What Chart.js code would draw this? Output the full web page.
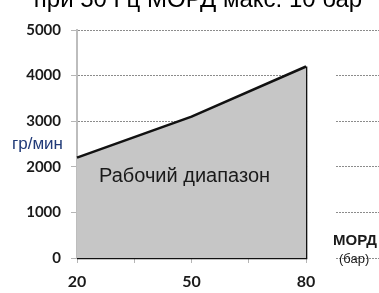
<!DOCTYPE html>
<html>
<head>
<meta charset="utf-8">
<script src="https://cdn.jsdelivr.net/npm/chart.js@4.4.1/dist/chart.umd.min.js"></script>
<style>
  html, body { margin: 0; padding: 0; background: #fff; }
  .chart-container { position: relative; width: 379px; height: 293px; }
</style>
</head>
<body>
<div class="chart-container">
  <canvas id="chart" width="379" height="293"></canvas>
</div>
<script>
// pressure (bar) vs flow (g/min) for the working range
const pressure = [20, 50, 80];
const flow = [2200, 3100, 4200];
const xTickMarks = [20, 35, 50, 65, 80];
const xLabels = [20, 50, 80];

const title = 'при 50 Гц МОРД макс. 10 бар';
const areaLabel = 'Рабочий диапазон';
const yUnit = 'гр/мин';
const xName = 'МОРД';
const xUnit = '(бар)';

const curve = pressure.map((p, i) => ({ x: p, y: flow[i] }));
// right side and bottom edge of the area
const edge = [
  { x: pressure[pressure.length - 1], y: flow[flow.length - 1] },
  { x: pressure[pressure.length - 1], y: 0 },
  { x: pressure[0], y: 0 }
];

const textPlugin = {
  id: 'texts',
  beforeDatasetsDraw(chart) {
    // grid lines break between the area and the axis name
    const { ctx, chartArea, scales } = chart;
    const x80 = scales.x.getPixelForValue(80);
    const top = scales.y.getPixelForValue(4500);
    ctx.save();
    ctx.fillStyle = '#fff';
    ctx.fillRect(x80 + 1, top, 28, chartArea.bottom - top + 1);
    ctx.restore();
  },
  afterDraw(chart) {
    const { ctx } = chart;
    ctx.save();
    ctx.textBaseline = 'alphabetic';

    ctx.fillStyle = '#000';
    ctx.font = '24px "Liberation Sans", Arial, sans-serif';
    ctx.textAlign = 'center';
    ctx.fillText(title, 198, 7);

    ctx.fillStyle = '#1a1a1a';
    ctx.font = '20px "Liberation Sans", Arial, sans-serif';
    ctx.textAlign = 'left';
    ctx.fillText(areaLabel, 99, 182);

    ctx.fillStyle = '#203a78';
    ctx.font = '17px "Liberation Sans", Arial, sans-serif';
    ctx.fillText(yUnit, 12, 149);

    ctx.fillStyle = '#1a1a1a';
    ctx.font = 'bold 15px "Liberation Sans", Arial, sans-serif';
    ctx.fillText(xName, 333, 245);
    ctx.font = '13px "Liberation Sans", Arial, sans-serif';
    ctx.fillText(xUnit, 339, 263);
    ctx.restore();
  }
};

const ctx = document.getElementById('chart').getContext('2d');
new Chart(ctx, {
  type: 'line',
  data: {
    datasets: [{
      data: curve,
      fill: 'origin',
      backgroundColor: '#c6c6c6',
      borderColor: '#111',
      borderWidth: 2.5,
      pointRadius: 0,
      tension: 0,
      clip: false
    }, {
      data: edge,
      fill: false,
      borderColor: '#111',
      borderWidth: 2.5,
      borderJoinStyle: 'miter',
      pointRadius: 0,
      tension: 0,
      clip: false
    }]
  },
  options: {
    responsive: false,
    animation: false,
    layout: { autoPadding: false, padding: { top: 30, right: 0, left: 0, bottom: 0 } },
    plugins: { legend: { display: false }, tooltip: { enabled: false } },
    scales: {
      x: {
        type: 'linear',
        min: 20,
        max: 99.1,
        afterFit: s => { s.height = 35; },
        ticks: {
          stepSize: 5,
          includeBounds: false,
          autoSkip: false,
          maxRotation: 0,
          padding: 9,
          color: '#1a1a1a',
          font: { family: 'Lato', size: 16, weight: 'bold' },
          callback: v => xLabels.includes(v) ? String(v) : ''
        },
        grid: {
          drawOnChartArea: false,
          tickLength: 5,
          tickColor: c => c.tick && xTickMarks.includes(c.tick.value) ? '#b5b5b5' : 'rgba(0,0,0,0)'
        },
        border: { display: false }
      },
      y: {
        min: 0,
        max: 5000,
        afterFit: s => { s.width = 77; },
        ticks: {
          stepSize: 1000,
          padding: 10,
          color: '#1a1a1a',
          font: { family: 'Lato', size: 15, weight: 'bold' },
          callback: v => String(v)
        },
        grid: {
          color: '#8c8c8c',
          tickLength: 6,
          tickColor: '#b5b5b5'
        },
        border: { display: true, color: '#bdbdbd', width: 2, dash: [2, 1] }
      }
    }
  },
  plugins: [textPlugin]
});
</script>
</body>
</html>
